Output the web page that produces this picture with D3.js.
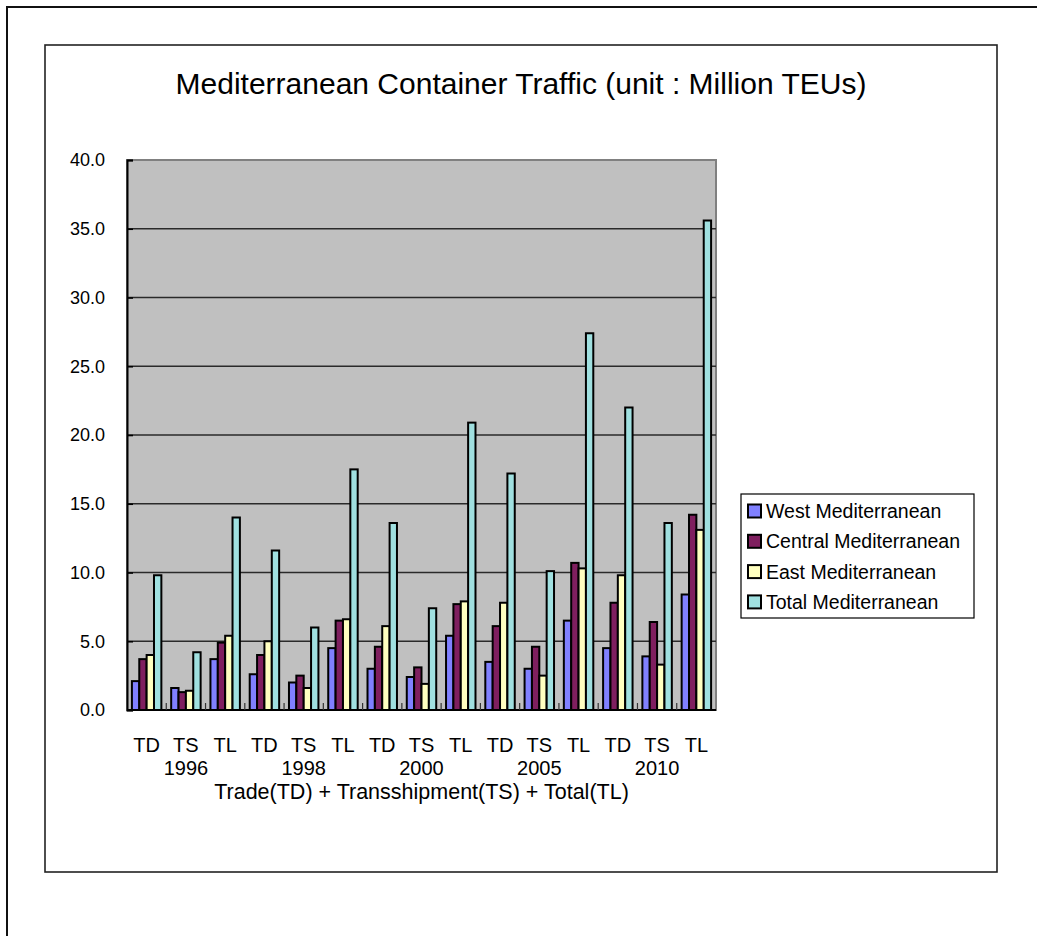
<!DOCTYPE html>
<html>
<head>
<meta charset="utf-8">
<script src="https://cdn.jsdelivr.net/npm/d3@7"></script>
<style>
  html, body { margin: 0; padding: 0; background: #ffffff; }
  svg { display: block; }
  text { font-family: "Liberation Sans", Arial, sans-serif; fill: #000; }
</style>
</head>
<body>
<svg id="chart" width="1037" height="936"></svg>
<script>
// Category levels: measure (inner) within year (outer)
const measures = ["TD", "TS", "TL"];
const years = ["1996", "1998", "2000", "2005", "2010"];

// Series values in million TEUs, ordered year by year as TD, TS, TL
const seriesNames = ["West Mediterranean", "Central Mediterranean", "East Mediterranean", "Total Mediterranean"];
const westValues    = [2.1, 1.6, 3.7,  2.6, 2.0, 4.5,  3.0, 2.4, 5.4,  3.5, 3.0, 6.5,  4.5, 3.9, 8.4];
const centralValues = [3.7, 1.3, 4.9,  4.0, 2.5, 6.5,  4.6, 3.1, 7.7,  6.1, 4.6, 10.7, 7.8, 6.4, 14.2];
const eastValues    = [4.0, 1.4, 5.4,  5.0, 1.6, 6.6,  6.1, 1.9, 7.9,  7.8, 2.5, 10.3, 9.8, 3.3, 13.1];
const totalValues   = [9.8, 4.2, 14.0, 11.6, 6.0, 17.5, 13.6, 7.4, 20.9, 17.2, 10.1, 27.4, 22.0, 13.6, 35.6];
const yTicks = [0, 5, 10, 15, 20, 25, 30, 35, 40];

const seriesValues = [westValues, centralValues, eastValues, totalValues];
const seriesColors = ["#8080ff", "#7f1f5f", "#ffffc0", "#a0e0e0"];

// Flat list of category slots: each year has TD, TS, TL
const slots = [];
years.forEach(y => measures.forEach(m => slots.push({ year: y, measure: m, key: y + "-" + m })));

const svg = d3.select("#chart");

// Outer and inner frames
svg.append("rect").attr("x", 7).attr("y", 7).attr("width", 1060).attr("height", 960)
  .attr("fill", "none").attr("stroke", "#111").attr("stroke-width", 2);
svg.append("rect").attr("x", 45).attr("y", 45).attr("width", 952).attr("height", 827)
  .attr("fill", "#fff").attr("stroke", "#222").attr("stroke-width", 1.6);

// Title
svg.append("text").attr("x", 521).attr("y", 94).attr("text-anchor", "middle")
  .style("font-size", "30px")
  .text("Mediterranean Container Traffic (unit : Million TEUs)");

// Plot area
const plot = { left: 127, right: 716, top: 160, bottom: 710 };

const x0 = d3.scaleBand().domain(slots.map(d => d.key))
  .range([plot.left, plot.right]).paddingInner(0.25).paddingOuter(0.125);
const x1 = d3.scaleBand().domain(d3.range(seriesNames.length))
  .range([0, x0.bandwidth()]).padding(0);
const y = d3.scaleLinear().domain([0, 40]).range([plot.bottom, plot.top]);

svg.append("rect").attr("x", plot.left).attr("y", plot.top)
  .attr("width", plot.right - plot.left).attr("height", plot.bottom - plot.top)
  .attr("fill", "#c0c0c0").attr("stroke", "#808080").attr("stroke-width", 2);

// Horizontal gridlines
svg.append("g").selectAll("line").data(yTicks.filter(t => t > 0 && t < 40)).join("line")
  .attr("x1", plot.left).attr("x2", plot.right)
  .attr("y1", d => y(d)).attr("y2", d => y(d))
  .attr("stroke", "#2a2a2a").attr("stroke-width", 1.4);

// Bars
const groups = svg.append("g").selectAll("g").data(slots).join("g")
  .attr("transform", d => `translate(${x0(d.key)},0)`);
groups.selectAll("rect").data((d, i) => seriesValues.map((vals, s) => ({ s, v: vals[i] }))).join("rect")
  .attr("x", d => x1(d.s))
  .attr("y", d => y(d.v))
  .attr("width", x1.bandwidth())
  .attr("height", d => y(0) - y(d.v))
  .attr("fill", d => seriesColors[d.s])
  .attr("stroke", "#000").attr("stroke-width", 2);

// Y axis
const yAxis = d3.axisLeft(y).tickValues(yTicks).tickSize(-6).tickPadding(22)
  .tickFormat(d3.format(".1f"));
const gy = svg.append("g").attr("transform", `translate(${plot.left},0)`).call(yAxis);
gy.select(".domain").attr("stroke", "#000").attr("stroke-width", 2);
gy.selectAll(".tick line").attr("stroke", "#000").attr("stroke-width", 1.6);
gy.selectAll(".tick text").style("font-size", "18px").style("font-family", "'Liberation Sans', Arial, sans-serif")
  .attr("fill", "#000");

// X axis baseline and category separators
const step = x0.step();
svg.append("line").attr("x1", plot.left).attr("x2", plot.right)
  .attr("y1", plot.bottom).attr("y2", plot.bottom).attr("stroke", "#000").attr("stroke-width", 2);
svg.append("g").selectAll("line").data(d3.range(1, slots.length)).join("line")
  .attr("x1", i => plot.left + i * step).attr("x2", i => plot.left + i * step)
  .attr("y1", plot.bottom).attr("y2", plot.bottom - 7)
  .attr("stroke", "#333").attr("stroke-width", 1.2);

// Category labels
svg.append("g").selectAll("text").data(slots).join("text")
  .attr("x", d => x0(d.key) + x0.bandwidth() / 2)
  .attr("y", 752).attr("text-anchor", "middle").style("font-size", "20px")
  .text(d => d.measure);
svg.append("g").selectAll("text").data(years).join("text")
  .attr("x", yr => x0(yr + "-TS") + x0.bandwidth() / 2)
  .attr("y", 775).attr("text-anchor", "middle").style("font-size", "20px")
  .text(yr => yr);
svg.append("text").attr("x", (plot.left + plot.right) / 2).attr("y", 799)
  .attr("text-anchor", "middle").style("font-size", "21.5px")
  .text("Trade(TD) + Transshipment(TS) + Total(TL)");

// Legend
const legend = svg.append("g").attr("transform", "translate(741,494)");
legend.append("rect").attr("width", 233).attr("height", 124)
  .attr("fill", "#fff").attr("stroke", "#000").attr("stroke-width", 1.2);
const items = legend.selectAll("g").data(seriesNames).join("g")
  .attr("transform", (d, i) => `translate(7,${17 + i * 30.3})`);
items.append("rect").attr("x", 0).attr("y", -6.5).attr("width", 13).attr("height", 13)
  .attr("fill", (d, i) => seriesColors[i]).attr("stroke", "#000").attr("stroke-width", 2);
items.append("text").attr("x", 18).attr("y", 7).style("font-size", "19.5px").text(d => d);
</script>
</body>
</html>
